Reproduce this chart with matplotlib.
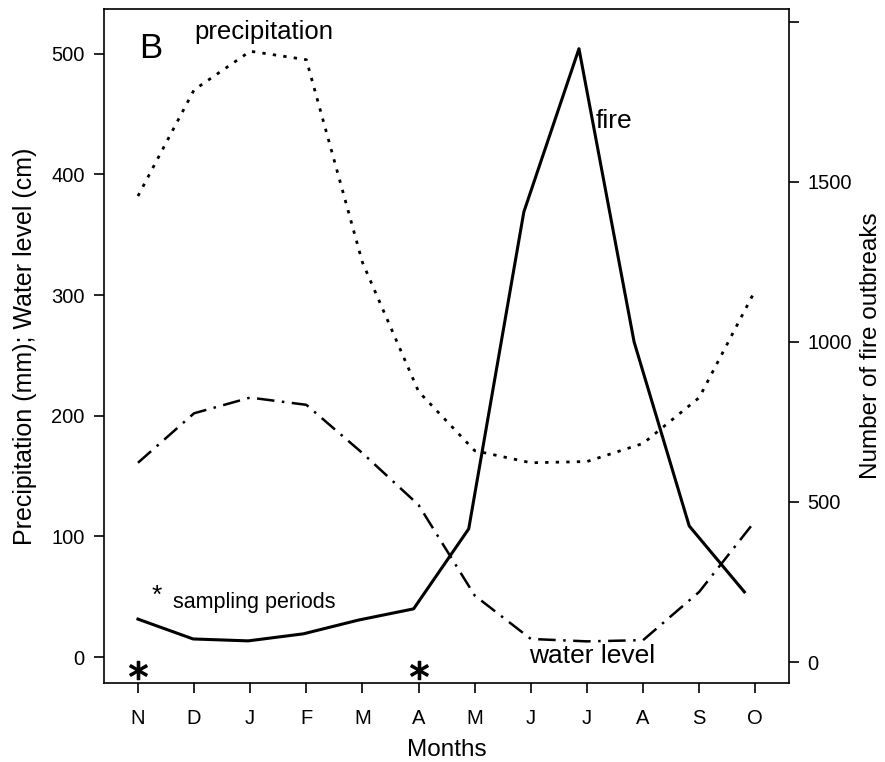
import numpy as np
import matplotlib
matplotlib.use('Agg')
import matplotlib.pyplot as plt

plt.rcParams['font.family'] = ['Liberation Sans', 'DejaVu Sans']

months = ['N', 'D', 'J', 'F', 'M', 'A', 'M', 'J', 'J', 'A', 'S', 'O']
precipitation = [382, 470, 502, 495, 327, 220, 171, 161, 162, 177, 215, 304]
water_level = [161, 202, 215, 209, 169, 126, 51, 15, 13, 14, 54, 113]
fire = [134, 72, 66, 88, 131, 166, 416, 1406, 1916, 1000, 425, 219]
sampling = [0, 5]  # N and A

x = np.arange(len(months))

fig = plt.figure(figsize=(8.85, 7.62), dpi=100)
pos = [104/885, 1-683/762, (789-104)/885, (683-9)/762]
ax = fig.add_axes(pos)

ax.plot(x, precipitation, color='black', lw=2.0, linestyle=(0, (1.2, 2.6)))
ax.plot(x, water_level, color='black', lw=1.8, linestyle=(0, (7, 3, 1, 3)))
ax.plot(x[sampling], [-11]*len(sampling), linestyle='none', marker='$*$',
        color='black', markersize=13)

ax.set_xlim(-0.605, 11.6)
ax.set_ylim(-21.5, 537)
ax.set_xticks(x)
ax.set_xticklabels(months)
ax.set_yticks([0, 100, 200, 300, 400, 500])
ax.tick_params(axis='both', direction='out', length=7, width=1.2, labelsize=14.5, pad=7)
ax.tick_params(axis='x', pad=12)
ax.set_xlabel('Months', fontsize=17.5, labelpad=8)
ax.set_ylabel('Precipitation (mm); Water level (cm)', fontsize=18, labelpad=10)
for s in ax.spines.values():
    s.set_linewidth(1.2)

ax.text(0.02, 504, 'B', fontsize=25, va='center', ha='left')
ax.text(2.25, 518, 'precipitation', fontsize=18.5, ha='center', va='center')
ax.text(6.97, 1, 'water level', fontsize=19, ha='left', va='center')
ax.text(0.25, 51, '*', fontsize=19, ha='left', va='center')
ax.text(0.62, 45, 'sampling periods', fontsize=15.5, ha='left', va='center')

# fire drawn on its own overlay (right axis)
axf = fig.add_axes(pos, frameon=False)
axf.plot(x, fire, color='black', lw=2.2)
axf.set_xlim(-0.616, 11.81)
axf.set_ylim(-65.6, 2040)
axf.xaxis.set_visible(False)
axf.yaxis.tick_right()
axf.yaxis.set_label_position('right')
axf.set_yticks([0, 500, 1000, 1500, 2000])
axf.set_yticklabels(['0', '500', '1000', '1500', ''])
axf.tick_params(axis='y', direction='out', length=7, width=1.2, labelsize=14.5, pad=6)
axf.set_ylabel('Number of fire outbreaks', fontsize=17.5, labelpad=6)
axf.text(8.3, 1690, 'fire', fontsize=19, ha='left', va='center')

fig.savefig('out.png', dpi=100)
